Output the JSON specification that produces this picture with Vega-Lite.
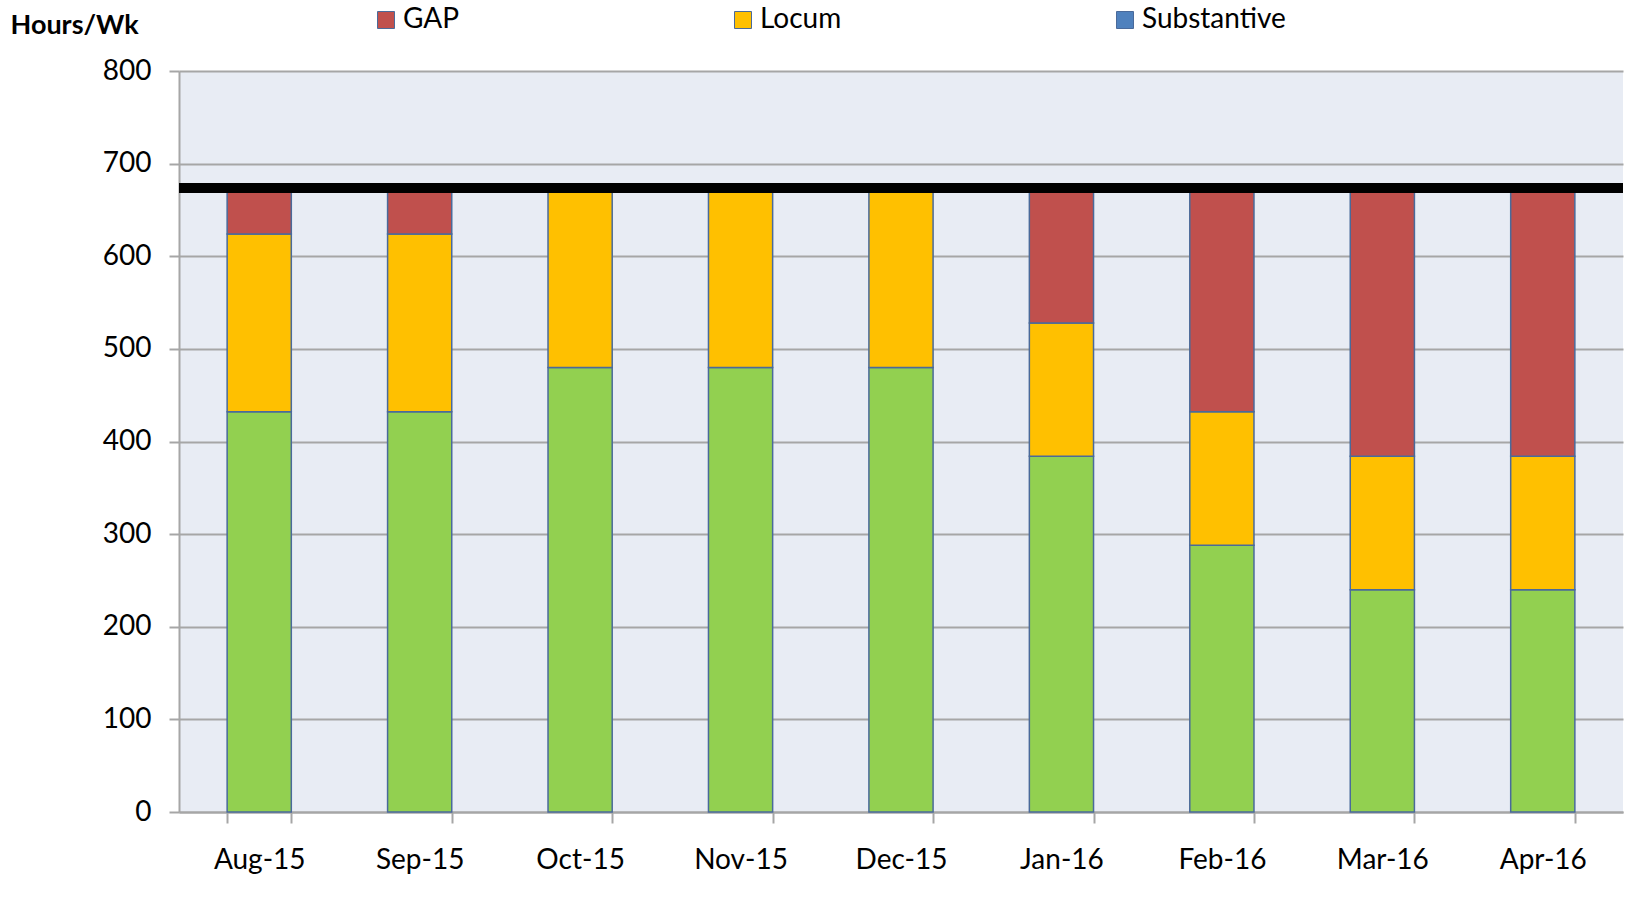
{
  "$schema": "https://vega.github.io/schema/vega-lite/v6.json",
  "width": 1444,
  "height": 741,
  "autosize": {"type": "none"},
  "padding": {"left": 179, "top": 71, "right": 22, "bottom": 87},
  "background": "white",
  "config": {
    "view": {"fill": "#E8ECF4", "stroke": null},
    "font": "Lato"
  },
  "data": {
    "values": [
      {"month": "Aug-15", "type": "Substantive", "ord": 1, "hours": 432},
      {"month": "Aug-15", "type": "Locum", "ord": 2, "hours": 192},
      {"month": "Aug-15", "type": "GAP", "ord": 3, "hours": 48},
      {"month": "Sep-15", "type": "Substantive", "ord": 1, "hours": 432},
      {"month": "Sep-15", "type": "Locum", "ord": 2, "hours": 192},
      {"month": "Sep-15", "type": "GAP", "ord": 3, "hours": 48},
      {"month": "Oct-15", "type": "Substantive", "ord": 1, "hours": 480},
      {"month": "Oct-15", "type": "Locum", "ord": 2, "hours": 192},
      {"month": "Nov-15", "type": "Substantive", "ord": 1, "hours": 480},
      {"month": "Nov-15", "type": "Locum", "ord": 2, "hours": 192},
      {"month": "Dec-15", "type": "Substantive", "ord": 1, "hours": 480},
      {"month": "Dec-15", "type": "Locum", "ord": 2, "hours": 192},
      {"month": "Jan-16", "type": "Substantive", "ord": 1, "hours": 384},
      {"month": "Jan-16", "type": "Locum", "ord": 2, "hours": 144},
      {"month": "Jan-16", "type": "GAP", "ord": 3, "hours": 144},
      {"month": "Feb-16", "type": "Substantive", "ord": 1, "hours": 288},
      {"month": "Feb-16", "type": "Locum", "ord": 2, "hours": 144},
      {"month": "Feb-16", "type": "GAP", "ord": 3, "hours": 240},
      {"month": "Mar-16", "type": "Substantive", "ord": 1, "hours": 240},
      {"month": "Mar-16", "type": "Locum", "ord": 2, "hours": 144},
      {"month": "Mar-16", "type": "GAP", "ord": 3, "hours": 288},
      {"month": "Apr-16", "type": "Substantive", "ord": 1, "hours": 240},
      {"month": "Apr-16", "type": "Locum", "ord": 2, "hours": 144},
      {"month": "Apr-16", "type": "GAP", "ord": 3, "hours": 288}
    ]
  },
  "layer": [
    {
      "mark": {"type": "bar", "stroke": "#4A6A9A", "strokeWidth": 1.5},
      "encoding": {
        "x": {
          "field": "month",
          "type": "nominal",
          "sort": null,
          "scale": {"paddingInner": 0.6, "paddingOuter": 0.3},
          "axis": {
            "title": null,
            "labelAngle": 0,
            "labelFontSize": 28,
            "labelColor": "#000000",
            "labelPadding": 23,
            "tickBand": "extent",
            "tickSize": 11,
            "tickColor": "#A6A6A6",
            "tickWidth": 2,
            "domainColor": "#A6A6A6",
            "domainWidth": 2
          }
        },
        "y": {
          "field": "hours",
          "type": "quantitative",
          "stack": "zero",
          "scale": {"domain": [0, 800], "nice": false},
          "axis": {
            "title": "Hours/Wk",
            "titleAngle": 0,
            "titleAlign": "left",
            "titleBaseline": "middle",
            "titleX": -169,
            "titleY": -46,
            "titleFontSize": 27,
            "titleFontWeight": "bold",
            "titleColor": "#000000",
            "values": [0, 100, 200, 300, 400, 500, 600, 700, 800],
            "labelFontSize": 28,
            "labelColor": "#000000",
            "labelPadding": 18,
            "tickSize": 10,
            "tickColor": "#A6A6A6",
            "tickWidth": 2,
            "grid": true,
            "gridColor": "#A6A6A6",
            "gridWidth": 2,
            "domainColor": "#A6A6A6",
            "domainWidth": 2
          }
        },
        "color": {
          "condition": {"test": "datum.type === 'Substantive'", "value": "#92D050"},
          "field": "type",
          "type": "nominal",
          "scale": {"domain": ["GAP", "Locum", "Substantive"], "range": ["#C0504D", "#FFC000", "#4F81BD"]},
          "legend": {
            "title": null,
            "orient": "none",
            "legendX": 193,
            "legendY": -65,
            "direction": "horizontal",
            "columns": 3,
            "columnPadding": 269,
            "symbolType": "square",
            "symbolSize": 289,
            "symbolStrokeColor": "#4A6A9A",
            "symbolStrokeWidth": 1,
            "labelFontSize": 28,
            "labelColor": "#000000",
            "labelOffset": 3
          }
        },
        "order": {"field": "ord", "type": "quantitative"}
      }
    },
    {
      "mark": {"type": "rule", "color": "#000000", "strokeWidth": 9},
      "encoding": {"y": {"datum": 674}}
    }
  ]
}
